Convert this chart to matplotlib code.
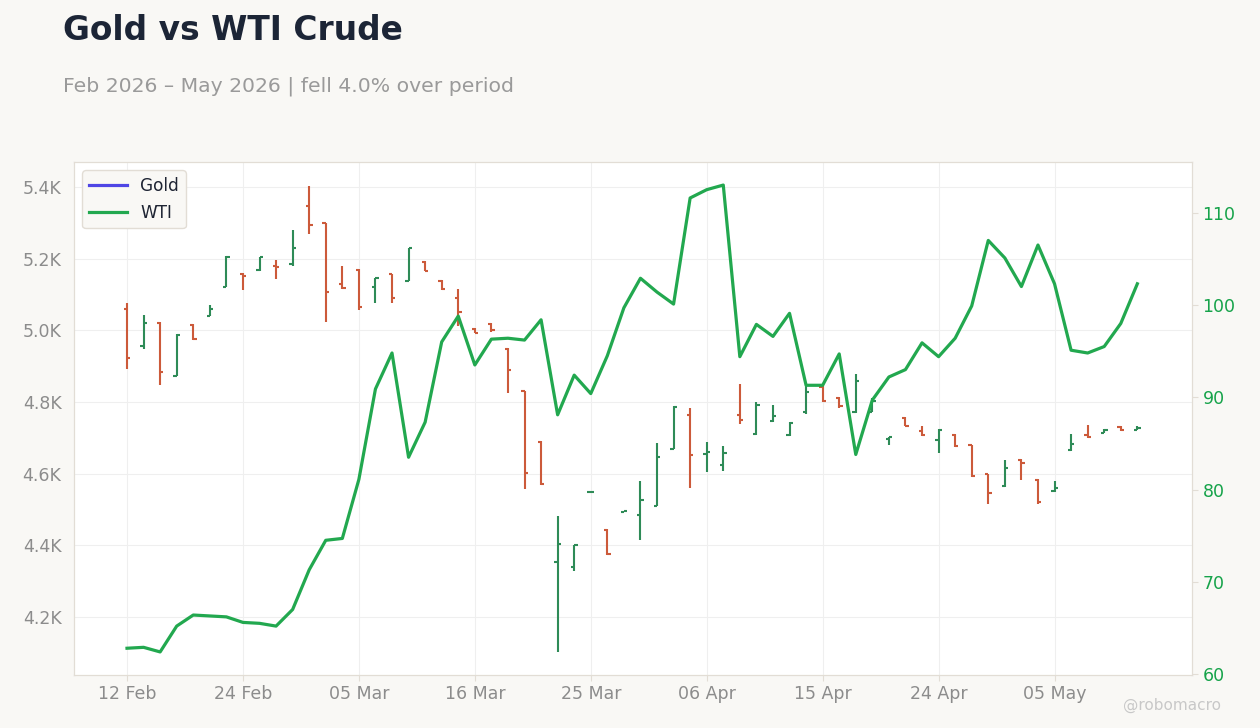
import matplotlib.pyplot as plt

# Gold OHLC (left axis) and WTI close (right axis), one entry per session
gold_open = [5060, 4955, 5021, 4874, 5016, 5040, 5122, 5157, 5168, 5179,
             5186, 5346, 5299, 5130, 5168, 5121, 5156, 5139, 5191, 5138,
             5090, 5004, 5018, 4948, 4830, 4688, 4353, 4340, 4548, 4443,
             4493, 4485, 4511, 4670, 4765, 4656, 4625, 4763, 4711, 4748,
             4707, 4772, 4843, 4812, 4773, 4773, 4697, 4756, 4718, 4694,
             4708, 4679, 4598, 4565, 4637, 4582, 4551, 4665, 4707, 4714,
             4730, 4723]
gold_high = [5076, 5042, 5022, 4989, 5018, 5070, 5208, 5159, 5206, 5197,
             5279, 5403, 5301, 5179, 5170, 5147, 5158, 5231, 5193, 5140,
             5115, 5007, 5020, 4950, 4832, 4690, 4482, 4402, 4551, 4445,
             4496, 4580, 4686, 4788, 4783, 4688, 4677, 4851, 4800, 4791,
             4744, 4845, 4844, 4814, 4878, 4811, 4702, 4758, 4733, 4724,
             4710, 4681, 4600, 4637, 4640, 4584, 4579, 4712, 4735, 4724,
             4732, 4733]
gold_low = [4893, 4947, 4848, 4872, 4974, 5039, 5120, 5114, 5166, 5144,
            5179, 5268, 5024, 5116, 5056, 5077, 5077, 5137, 5165, 5113,
            5011, 4993, 4995, 4824, 4556, 4569, 4102, 4328, 4547, 4374,
            4492, 4416, 4509, 4668, 4561, 4605, 4608, 4740, 4709, 4744,
            4704, 4767, 4800, 4784, 4769, 4772, 4679, 4732, 4704, 4659,
            4674, 4591, 4516, 4563, 4583, 4514, 4549, 4663, 4700, 4713,
            4718, 4722]
gold_close = [4923, 5021, 4884, 4988, 4976, 5060, 5205, 5152, 5204, 5177,
              5230, 5295, 5107, 5118, 5065, 5146, 5090, 5230, 5166, 5116,
              5051, 4994, 5000, 4890, 4603, 4572, 4404, 4400, 4549, 4376,
              4495, 4527, 4647, 4785, 4653, 4660, 4659, 4751, 4793, 4761,
              4742, 4828, 4802, 4788, 4859, 4803, 4701, 4734, 4707, 4722,
              4677, 4594, 4546, 4617, 4630, 4521, 4560, 4684, 4702, 4722,
              4721, 4727]
wti = [62.8, 62.9, 62.4, 65.2, 66.4, 66.3, 66.2, 65.6, 65.5, 65.2,
       67.0, 71.3, 74.5, 74.7, 81.1, 90.9, 94.8, 83.5, 87.3, 96.0,
       98.8, 93.5, 96.3, 96.4, 96.2, 98.4, 88.1, 92.4, 90.4, 94.5,
       99.7, 102.9, 101.4, 100.1, 111.6, 112.5, 113.0, 94.4, 97.9, 96.6,
       99.1, 91.3, 91.3, 94.7, 83.8, 89.7, 92.2, 93.0, 95.9, 94.4,
       96.4, 99.9, 107.0, 105.1, 102.0, 106.5, 102.3, 95.1, 94.8, 95.5,
       98.0, 102.3]
tick_labels = ["12 Feb", "24 Feb", "05 Mar", "16 Mar", "25 Mar",
               "06 Apr", "15 Apr", "24 Apr", "05 May"]

UP = "#2e8b57"
DOWN = "#cc5a3a"
WTI_C = "#22a84f"
BG = "#f9f8f5"
SPINE = "#e2ddd5"
TXT = "#8c8c8c"

fig = plt.figure(figsize=(12.6, 7.28), dpi=100, facecolor=BG)
ax = fig.add_axes([74 / 1260, 53 / 728, 1118 / 1260, 513 / 728])
ax.set_facecolor("white")
ax2 = ax.twinx()

x = list(range(len(gold_open)))
w = 0.2
for i in x:
    c = UP if gold_close[i] >= gold_open[i] else DOWN
    ax.vlines(i, gold_low[i], gold_high[i], color=c, lw=1.5, zorder=3)
    ax.hlines(gold_open[i], i - w, i, color=c, lw=1.5, zorder=3)
    ax.hlines(gold_close[i], i, i + w, color=c, lw=1.5, zorder=3)

ax2.plot(x, wti, color=WTI_C, lw=2.3, zorder=4)

ax.set_xlim(-3.2, 64.3)
ax.set_ylim(4038, 5470)
ax2.set_ylim(59.9, 115.5)

ax.set_yticks([4200, 4400, 4600, 4800, 5000, 5200, 5400])
ax.set_yticklabels(["4.2K", "4.4K", "4.6K", "4.8K", "5.0K", "5.2K", "5.4K"])
ax2.set_yticks([60, 70, 80, 90, 100, 110])
ax.set_xticks(x[::7])
ax.set_xticklabels(tick_labels)

ax.grid(True, color="#efefef", lw=0.8, zorder=0)
ax.tick_params(axis="both", colors=SPINE, labelcolor=TXT, labelsize=12.5, length=4)
ax.tick_params(axis="y", length=0, pad=9)
ax2.tick_params(axis="y", colors=SPINE, labelcolor="#16a34a", labelsize=12.5, length=4)
for a in (ax, ax2):
    for s in a.spines.values():
        s.set_color(SPINE)

# legend built from proxy lines
h1, = ax.plot([], [], color="#4f46e5", lw=2.3, label="Gold")
h2, = ax.plot([], [], color=WTI_C, lw=2.3, label="WTI")
leg = ax2.legend(handles=[h1, h2], loc="upper left", fontsize=12.2,
                 facecolor=BG, edgecolor=SPINE, framealpha=1,
                 borderaxespad=0.5, handlelength=2.2)
for t in leg.get_texts():
    t.set_color("#1e2433")

fig.text(63 / 1260, 1 - 31 / 728, "Gold vs WTI Crude", fontsize=23.7,
         fontweight="bold", color="#1c2536", va="center")
fig.text(63 / 1260, 1 - 86 / 728, "Feb 2026 \u2013 May 2026 | fell 4.0% over period",
         fontsize=14.7, color="#9a9a9a", va="center")
fig.text(1172 / 1260, 1 - 705 / 728, "@robomacro", fontsize=11,
         color="#c8c8c8", ha="center", va="center")

fig.savefig("out.png", dpi=100, facecolor=BG)
